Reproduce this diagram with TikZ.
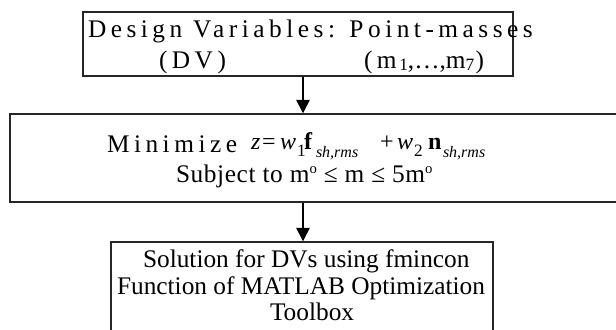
\documentclass[tikz,border=0pt]{standalone}
\usepackage{fontspec}
\setmainfont{Liberation Serif}
\newfontfamily\spaced[LetterSpace=17.8]{Liberation Serif}
\newfontfamily\loose[LetterSpace=2.4]{Liberation Serif}
\usetikzlibrary{arrows.meta}
\tikzset{
  x=0.75pt, y=-0.75pt,
  box/.style={draw=black!85, line width=1.1pt, rectangle, inner sep=0pt},
  arr/.style={draw=black, line width=1.1pt, -{Triangle[width=10pt,length=10pt]}},
  txt/.style={anchor=base west, inner sep=0pt, outer sep=0pt},
  big/.style={font=\fontsize{19}{22}\selectfont},
  mth/.style={font=\fontsize{18}{20}\selectfont\itshape},
  mrm/.style={font=\fontsize{18}{20}\selectfont},
  mbf/.style={font=\fontsize{18}{20}\selectfont\bfseries},
  sub/.style={font=\fontsize{12}{14}\selectfont\itshape},
  idx/.style={font=\fontsize{13}{15}\selectfont},
}
\newcommand{\supo}{\raisebox{6.5pt}{\fontsize{11}{12}\selectfont o}}
\begin{document}
\begin{tikzpicture}
\useasboundingbox (0,0) rectangle (616,329);

% boxes
\node[box, minimum width=322.5pt, minimum height=48pt] (dv) at (298,44) {};
\node[box, minimum width=472.5pt, minimum height=66pt] (opt) at (325,158) {};
\node[box, minimum width=286.5pt, minimum height=77.25pt] (sol) at (302,293.5) {};

% design variables
\node[txt, big] (dvl1) at (88,37) {\spaced Design Variables: Point-masses};
\node[txt, big] (dvl2) at (159,68) {\spaced (DV)};
\node[txt, big] (dvl3) at (364,68) {\spaced (m\hspace{2pt}\normalfont\raisebox{-2pt}{\fontsize{13}{14}\selectfont 1},\ldots,m\raisebox{-2pt}{\fontsize{13}{14}\selectfont 7}\hspace{1pt})};

% objective function
\node[txt, big] (minz) at (107,152) {\spaced Minimize};
\node[txt, mth] (mz) at (251,149) {z};
\node[txt, mrm] (meq) at (262,149) {=};
\node[txt, mth] (mw1) at (280,149) {w};
\node[txt, idx] (mi1) at (297,156) {1};
\node[txt, mbf] (mf) at (304,149) {f};
\node[txt, sub] (mfs) at (316,157) {sh,rms};
\node[txt, mrm] (mplus) at (380,149) {+};
\node[txt, mth] (mw2) at (397,149) {w};
\node[txt, idx] (mi2) at (414,156) {2};
\node[txt, mbf] (mn) at (428,149) {n};
\node[txt, sub] (mns) at (443,157) {sh,rms};
\node[txt, big] (cons) at (176,182) {\loose Subject to m\supo{} ≤ m ≤ 5m\supo};

% solver
\node[txt, big] (sol1) at (143,267) {Solution for DVs using fmincon};
\node[txt, big] (sol2) at (117,294) {Function of MATLAB Optimization};
\node[txt, big] (sol3) at (270,320) {Toolbox};

% flow
\coordinate (ax) at (303,0);
\draw[arr] (dv.south -| ax) -- (opt.north -| ax);
\draw[arr] (opt.south -| ax) -- (sol.north -| ax);
\end{tikzpicture}
\end{document}
